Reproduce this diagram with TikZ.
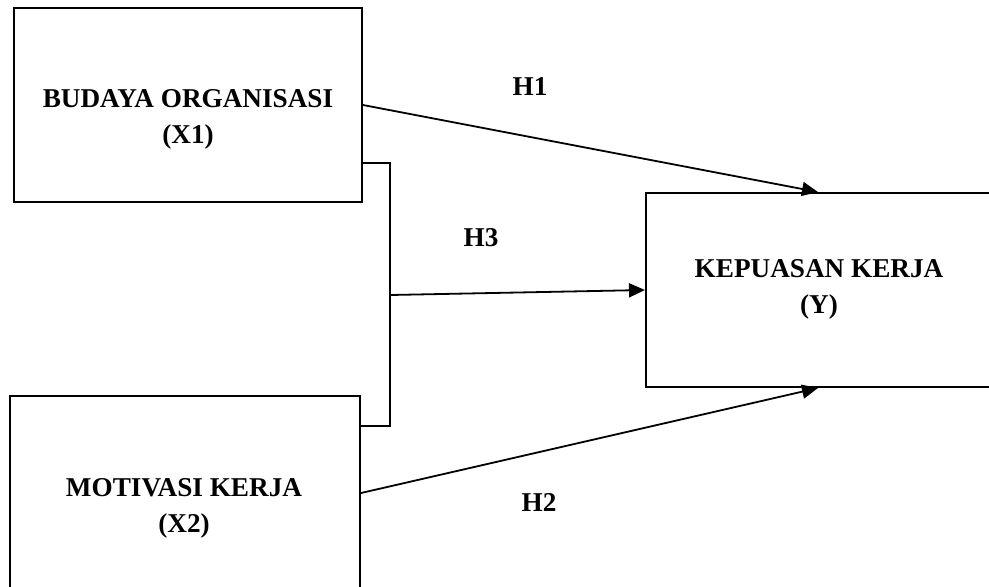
\documentclass[tikz,border=0pt]{standalone}
\usepackage{fontspec}
\setmainfont{Liberation Serif}
\usetikzlibrary{arrows.meta}

\begin{document}
\begin{tikzpicture}[x=0.5pt, y=-0.5pt,
    varbox/.style={draw, line width=1pt, inner sep=0pt},
    vartext/.style={align=center, font=\fontsize{13.6}{18}\selectfont\bfseries},
    hyp/.style={font=\fontsize{13.6}{16}\selectfont\bfseries},
    link/.style={line width=0.9pt},
    arr/.style={line width=0.9pt, -{Triangle[length=8pt, width=7pt]}}]
    \useasboundingbox (0,0) rectangle (989,586);
    \node[varbox, minimum width=174pt, minimum height=97pt] (x1) at (188,105) {};
    \node[varbox, minimum width=175pt, minimum height=102pt] (x2) at (185,498) {};
    \node[varbox, minimum width=176pt, minimum height=97pt] (y) at (822,290) {};
    \node[vartext] (x1txt) at (188,119) {BUDAYA ORGANISASI\\(X1)};
    \node[vartext] (x2txt) at (184,508) {MOTIVASI KERJA\\(X2)};
    \node[vartext] (ytxt) at (819,289) {KEPUASAN KERJA\\(Y)};
    \node[hyp] (h1) at (530,87) {H1};
    \node[hyp] (h2) at (539,502) {H2};
    \node[hyp] (h3) at (481,238) {H3};
    \coordinate (top) at (390,163);
    \coordinate (bot) at (390,426);
    \coordinate (mid) at (390,295);
    \draw[link] (x1.east |- top) -- (top) -- (bot) -- (x2.east |- bot);
    \draw[arr] (x1.east) -- ([xshift=-2pt]y.north);
    \draw[arr] ([yshift=2.5pt]x2.east) -- ([xshift=-2pt]y.south);
    \draw[arr] (mid) -- (y.west);
\end{tikzpicture}
\end{document}
